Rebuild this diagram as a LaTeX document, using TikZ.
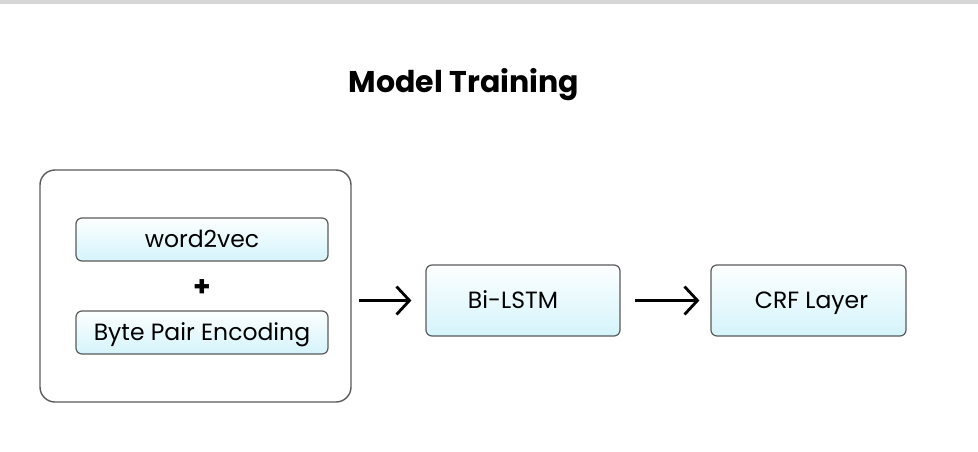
\documentclass[tikz,border=0pt]{standalone}
\usepackage{fontspec}
\setmainfont{Poppins}
\usetikzlibrary{arrows.meta,positioning}
\definecolor{boxline}{RGB}{90,90,90}
\definecolor{boxfill}{RGB}{212,244,251}
\definecolor{topbar}{RGB}{214,214,214}
\tikzset{
  block/.style={draw=boxline,line width=1.2pt,rounded corners=6pt,
    top color=white!95!boxfill,bottom color=boxfill,inner sep=0pt,
    font=\fontsize{23.5}{28}\selectfont,text height=16.5pt,text depth=0pt},
  flow/.style={line width=2.8pt,-{Straight Barb[length=13pt,width=28pt,line width=2.8pt]}}
}
\begin{document}
\begin{tikzpicture}[x=1pt,y=-1pt]
\useasboundingbox (0,0) rectangle (978,451);
\fill[topbar] (0,0) rectangle (978,4);
\node[font=\fontsize{30}{34}\selectfont\bfseries,text height=21pt,text depth=0pt] (title) at (464,82) {Model Training};
\node[draw=boxline,line width=1.4pt,rounded corners=15pt,minimum width=311pt,minimum height=232pt] (embed) at (195.5,286) {};
\node[block,minimum width=252pt,minimum height=43pt] (w2v) at (202,239.5) {word2vec};
\node[font=\fontsize{28}{32}\selectfont\bfseries] (plus) at (202,288) {+};
\node[block,minimum width=252pt,minimum height=43pt] (bpe) at (202,332.5) {Byte Pair Encoding};
\node[block,minimum width=194pt,minimum height=71pt] (lstm) at (523,300.5) {Bi-LSTM\kern20pt};
\node[block,minimum width=195pt,minimum height=71pt] (crf) at (808.5,300.5) {\kern6pt CRF Layer};
\draw[flow,shorten <=7pt,shorten >=14pt] (embed.east |- lstm.west) -- (lstm.west);
\draw[flow,shorten <=14pt,shorten >=11pt] (lstm) -- (crf);
\end{tikzpicture}
\end{document}
